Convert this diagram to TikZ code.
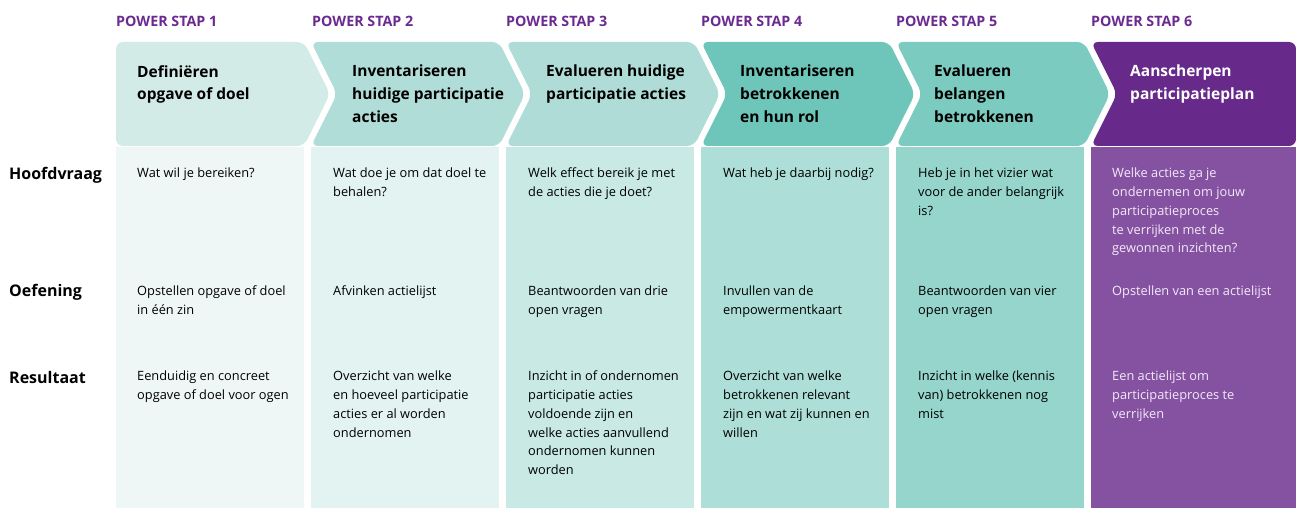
\documentclass[tikz,border=0pt]{standalone}
\usepackage{fontspec}
\setmainfont{Open Sans}
\usepackage{tikz}
\definecolor{paars}{HTML}{6B2A90}
\definecolor{kopA}{HTML}{D2EBE6}
\definecolor{kopB}{HTML}{B1DDD8}
\definecolor{kopC}{HTML}{AFDCD6}
\definecolor{kopD}{HTML}{6DC6B9}
\definecolor{kopE}{HTML}{7BCBC0}
\definecolor{kopF}{HTML}{67298A}
\definecolor{vakA}{HTML}{EEF7F6}
\definecolor{vakB}{HTML}{E2F3F1}
\definecolor{vakC}{HTML}{C8E9E4}
\definecolor{vakD}{HTML}{ADDFD8}
\definecolor{vakE}{HTML}{95D5CB}
\definecolor{vakF}{HTML}{8552A2}
\definecolor{lichttekst}{HTML}{F2EAF7}
\tikzset{
  header/.style    = {rounded corners=7pt},
  steplabel/.style = {anchor=west, inner sep=0pt, text=paars, font=\fontsize{14.3}{16}\selectfont\bfseries},
  rowlabel/.style  = {anchor=west, inner sep=0pt, font=\fontsize{16}{20}\selectfont\bfseries},
  title/.style     = {anchor=north west, inner sep=0pt, align=left, font=\fontsize{15.5}{22.7}\selectfont\bfseries},
  cell/.style      = {anchor=north west, inner sep=0pt, align=left, font=\fontsize{12.8}{18.7}\selectfont}
}

\begin{document}
\begin{tikzpicture}[x=1pt, y=-1pt]
\useasboundingbox (0,0) rectangle (1296,508);

% Columns
\fill[vakA] (116,147) rectangle (304,508);
\fill[vakB] (311,147) rectangle (499,508);
\fill[vakC] (506,147) rectangle (694,508);
\fill[vakD] (701,147) rectangle (889,508);
\fill[vakE] (896,147) rectangle (1084,508);
\fill[vakF] (1091,147) rectangle (1296,508);

% Chevrons
\fill[kopA, header] (116,42) -- (304,42) -- (330,94) -- (304,146) -- (116,146) -- cycle;
\fill[kopB, header] (311,42) -- (499,42) -- (525,94) -- (499,146) -- (311,146) -- (337,94) -- cycle;
\fill[kopC, header] (506,42) -- (694,42) -- (720,94) -- (694,146) -- (506,146) -- (532,94) -- cycle;
\fill[kopD, header] (701,42) -- (889,42) -- (915,94) -- (889,146) -- (701,146) -- (727,94) -- cycle;
\fill[kopE, header] (896,42) -- (1084,42) -- (1110,94) -- (1084,146) -- (896,146) -- (922,94) -- cycle;
\fill[kopF, header] (1091,42) -- (1296,42) -- (1296,146) -- (1091,146) -- (1117,94) -- cycle;

% Step labels
\node[steplabel] (stap1) at (116,21) {POWER STAP 1};
\node[steplabel] (stap2) at (312,21) {POWER STAP 2};
\node[steplabel] (stap3) at (506,21) {POWER STAP 3};
\node[steplabel] (stap4) at (701,21) {POWER STAP 4};
\node[steplabel] (stap5) at (896,21) {POWER STAP 5};
\node[steplabel] (stap6) at (1091,21) {POWER STAP 6};

% Titles
\node[title] (titel1) at (137,65) {Definiëren\\opgave of doel};
\node[title] (titel2) at (352,65) {Inventariseren\\huidige participatie\\acties};
\node[title] (titel3) at (546,65) {Evalueren huidige\\participatie acties};
\node[title] (titel4) at (740,65) {Inventariseren\\betrokkenen\\en hun rol};
\node[title] (titel5) at (934,65) {Evalueren\\belangen\\betrokkenen};
\node[title, text=white] (titel6) at (1130,65) {Aanscherpen\\participatieplan};

% Row labels
\node[rowlabel] (hoofdvraag) at (9,175) {Hoofdvraag};
\node[rowlabel] (oefening) at (9,292) {Oefening};
\node[rowlabel] (resultaat) at (9,377) {Resultaat};

% Hoofdvraag
\node[cell] (vraag1) at (137,168) {Wat wil je bereiken?};
\node[cell] (vraag2) at (333,168) {Wat doe je om dat doel te\\behalen?};
\node[cell] (vraag3) at (528,168) {Welk effect bereik je met\\de acties die je doet?};
\node[cell] (vraag4) at (723,168) {Wat heb je daarbij nodig?};
\node[cell] (vraag5) at (918,168) {Heb je in het vizier wat\\voor de ander belangrijk\\is?};
\node[cell, text=lichttekst] (vraag6) at (1112,168) {Welke acties ga je\\ondernemen om jouw\\participatieproces\\te verrijken met de\\gewonnen inzichten?};

% Oefening
\node[cell] (oef1) at (137,286) {Opstellen opgave of doel\\in één zin};
\node[cell] (oef2) at (333,286) {Afvinken actielijst};
\node[cell] (oef3) at (528,286) {Beantwoorden van drie\\open vragen};
\node[cell] (oef4) at (723,286) {Invullen van de\\empowermentkaart};
\node[cell] (oef5) at (918,286) {Beantwoorden van vier\\open vragen};
\node[cell, text=lichttekst] (oef6) at (1112,286) {Opstellen van een actielijst};

% Resultaat
\node[cell] (res1) at (137,371) {Eenduidig en concreet\\opgave of doel voor ogen};
\node[cell] (res2) at (333,371) {Overzicht van welke\\en hoeveel participatie\\acties er al worden\\ondernomen};
\node[cell] (res3) at (528,371) {Inzicht in of ondernomen\\participatie acties\\voldoende zijn en\\welke acties aanvullend\\ondernomen kunnen\\worden};
\node[cell] (res4) at (723,371) {Overzicht van welke\\betrokkenen relevant\\zijn en wat zij kunnen en\\willen};
\node[cell] (res5) at (918,371) {Inzicht in welke (kennis\\van) betrokkenen nog\\mist};
\node[cell, text=lichttekst] (res6) at (1112,371) {Een actielijst om\\participatieproces te\\verrijken};

\end{tikzpicture}
\end{document}
